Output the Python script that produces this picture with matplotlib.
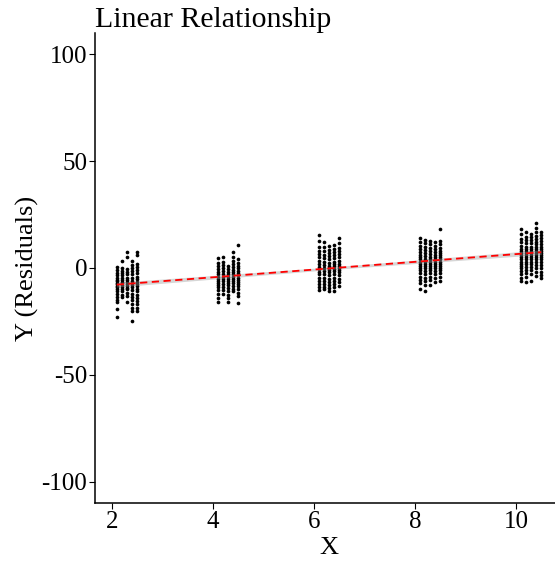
import numpy as np
import matplotlib
matplotlib.use("Agg")
import matplotlib.pyplot as plt

# group centres on the x axis and the five jitter columns inside each group
groups = [2, 4, 6, 8, 10]
col_offsets = [0.1, 0.2, 0.3, 0.4, 0.5]

# residual values, one list per column
g2 = [
    [0.5, -1, -2.5, -3.5, -4.5, -5.5, -6, -7, -7.5, -8.5, -9, -10, -11, -12, -13.5, -15, -16, -19, -23],
    [3.4, 0, -1.5, -2.5, -3.5, -4.5, -5.5, -6.5, -7, -8, -9, -10, -11, -12.5, -13.6],
    [7.5, 5, -0.5, -2, -3, -4.5, -5.5, -6.5, -7.5, -8.5, -9.5, -10, -11.5, -13, -16],
    [3.4, 1.5, 0, -1.5, -3, -4.5, -6, -7, -8, -9, -10.5, -12, -13.5, -15, -17, -18.5, -20, -25],
    [7.5, 6, 2, 0.5, -1, -2.5, -4, -5, -6.5, -7.5, -8.5, -10, -11, -12.5, -14, -15.5, -17, -18.5, -20],
]
g4 = [
    [4.5, 2.5, 1, -0.5, -2, -3, -4, -5, -6, -7, -8, -9, -10.5, -12, -14, -16],
    [5, 3, 1.5, 0, -1.5, -3, -4, -5, -6, -7.5, -9, -10.5, -12],
    [1, -0.5, -2, -3, -4, -5, -6, -7, -8, -9.5, -11, -12.5, -14, -16],
    [7.3, 5, 3.5, 2, 0.5, -1, -2, -3, -4, -5, -6, -7, -8.5, -10, -11],
    [10.8, 4, 2.5, 1, 0, -1.5, -2.5, -3.5, -4.5, -5.5, -6.5, -7.5, -8.5, -10, -11.5, -13, -16.4],
]
g6 = [
    [15.5, 12.5, 10, 8, 6.5, 5, 3.5, 2, 0.5, -0.5, -2, -3, -4.5, -6, -7.5, -9, -10.3],
    [12, 10, 8, 6, 4.5, 3, 1.5, 0, -1.5, -3, -4.5, -6, -7.5, -9, -9.8],
    [10.4, 8.5, 7, 5.5, 4, 2.5, 1, 0, -1, -2, -3.5, -5, -6.5, -8, -9.5, -11],
    [10.8, 9, 7.5, 6, 4.5, 3, 2, 1, -0.5, -1.5, -3, -4.5, -6, -7.5, -9, -10.6],
    [14, 11.5, 9.5, 8, 6.5, 5, 3.5, 2, 1, 0, -1, -2, -3.5, -5, -6.5, -8.3],
]
g8 = [
    [14, 12, 10.5, 9, 7.5, 6, 5, 4, 3, 2, 1, 0, -1, -2.5, -4, -5.5, -7, -9.8],
    [13.3, 11.5, 10, 8.5, 7, 5.5, 4, 3, 2, 1, 0, -1.5, -3, -4.5, -6, -8, -10.6],
    [12.8, 11, 9.5, 8, 6.5, 5, 4, 3, 2, 1, 0, -1, -2.5, -4, -5.5, -8],
    [12, 10.5, 9, 7.5, 6, 5, 4, 3, 2, 1, 0, -1.5, -3, -4.5, -6.4],
    [18.3, 12.5, 11, 9.5, 8, 7, 6, 5, 4, 3, 2, 1, 0, -1, -2.5, -4, -6],
]
g10 = [
    [18.3, 16, 13.5, 12, 10.5, 9, 8, 7, 6, 5, 4, 3, 2, 1, 0, -1.5, -3, -4.5, -6],
    [16.7, 14.5, 13, 11.5, 10, 9, 8, 7, 6, 5, 4, 3, 2, 0.5, -1, -2.5, -4, -6.4],
    [16, 14.5, 13, 11.5, 10, 9, 8, 7, 6, 5, 4, 3, 2, 0.5, -1, -3, -6],
    [21, 18.5, 17, 15, 13.5, 12, 11, 10, 9, 8, 7, 6, 5, 4, 3, 1.5, 0, -2, -3.6],
    [17, 15.5, 14, 12.5, 11, 10, 9, 8, 7, 6, 5, 4, 3, 1.5, 0, -2, -3.5, -4.8],
]
group_values = [g2, g4, g6, g8, g10]

# fitted line and its confidence band
fit_x = [2.1, 6.3, 10.5]
fit_y = [-7.8, -0.2, 7.4]
fit_half = [1.1, 0.6, 1.1]

plt.rcParams["font.family"] = ["Liberation Serif", "DejaVu Serif"]
plt.rcParams["axes.unicode_minus"] = False

fig = plt.figure(figsize=(5.55, 5.61), dpi=100)
ax = fig.add_axes([0.172, 0.1034, 0.8414, 0.8378])

xs, ys = [], []
for g, cols in zip(groups, group_values):
    for off, vals in zip(col_offsets, cols):
        xs += [g + off] * len(vals)
        ys += vals
ax.scatter(xs, ys, s=7, color="black", linewidths=0, zorder=2)

fx = np.array(fit_x)
fy = np.array(fit_y)
fh = np.array(fit_half)
ax.fill_between(fx, fy - fh, fy + fh, color="#999999", alpha=0.4, linewidth=0, zorder=3)
ax.plot(fx, fy, color="red", linestyle=(0, (4, 2.5)), linewidth=1.3, zorder=4)

ax.set_xlim(1.68, 10.92)
ax.set_ylim(-110, 110)
ax.set_xticks([2, 4, 6, 8, 10])
ax.set_yticks([-100, -50, 0, 50, 100])

for side in ["top", "right"]:
    ax.spines[side].set_visible(False)
for side in ["left", "bottom"]:
    ax.spines[side].set_linewidth(1.1)
ax.tick_params(labelsize=18, length=4, width=0.8, pad=2)

ax.set_xlabel("X", fontsize=19, labelpad=3)
ax.set_ylabel("Y (Residuals)", fontsize=19, labelpad=2)
ax.set_title("Linear Relationship", loc="left", fontsize=21.5, pad=4)

fig.savefig("out.png", dpi=100)
